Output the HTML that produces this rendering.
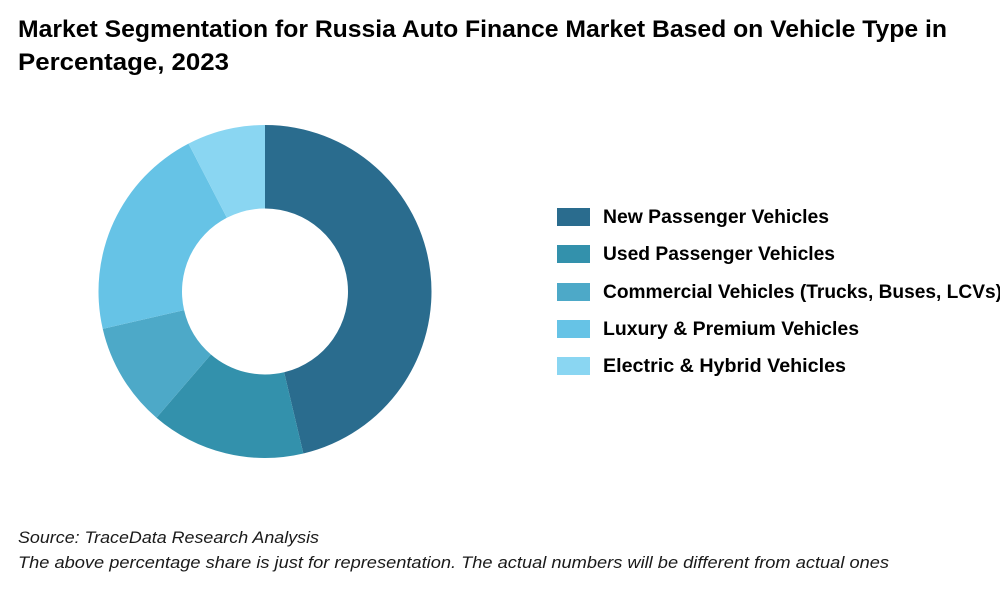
<!DOCTYPE html>
<html lang="en">
<head>
<meta charset="utf-8">
<title>Market Segmentation for Russia Auto Finance Market</title>
<style>
html,body{margin:0;padding:0;background:#fff;}
svg{display:block;}
text{font-family:"Liberation Sans",sans-serif;fill:#000;}
.title{font-size:24px;font-weight:700;}
.legend-text{font-size:19px;font-weight:700;}
.note{font-size:17px;font-style:italic;fill:#1a1a1a;}
</style>
</head>
<body>
<svg id="chart" width="1000" height="600" viewBox="0 0 1000 600" xmlns="http://www.w3.org/2000/svg">
  <rect x="0" y="0" width="1000" height="600" fill="#ffffff"/>
  <g>
    <text class="title" x="18" y="37" textLength="929" lengthAdjust="spacingAndGlyphs">Market Segmentation for Russia Auto Finance Market Based on Vehicle Type in</text>
    <text class="title" x="18" y="70" textLength="211" lengthAdjust="spacingAndGlyphs">Percentage, 2023</text>
  </g>
  <g id="slices"></g>
  <g>
    <g>
      <rect x="557" y="208" width="33" height="18" fill="#2a6c8e"/>
      <text class="legend-text" x="603" y="223" textLength="226" lengthAdjust="spacingAndGlyphs">New Passenger Vehicles</text>
    </g>
    <g>
      <rect x="557" y="245" width="33" height="18" fill="#3391ac"/>
      <text class="legend-text" x="603" y="260" textLength="232" lengthAdjust="spacingAndGlyphs">Used Passenger Vehicles</text>
    </g>
    <g>
      <rect x="557" y="283" width="33" height="18" fill="#4da9c8"/>
      <text class="legend-text" x="603" y="298" textLength="399" lengthAdjust="spacingAndGlyphs">Commercial Vehicles (Trucks, Buses, LCVs)</text>
    </g>
    <g>
      <rect x="557" y="320" width="33" height="18" fill="#66c3e6"/>
      <text class="legend-text" x="603" y="335" textLength="256" lengthAdjust="spacingAndGlyphs">Luxury &amp; Premium Vehicles</text>
    </g>
    <g>
      <rect x="557" y="357" width="33" height="18" fill="#8ad6f2"/>
      <text class="legend-text" x="603" y="372" textLength="243" lengthAdjust="spacingAndGlyphs">Electric &amp; Hybrid Vehicles</text>
    </g>
  </g>
  <g>
    <text class="note" x="18" y="543" textLength="301" lengthAdjust="spacingAndGlyphs">Source: TraceData Research Analysis</text>
    <text class="note" x="18" y="568" textLength="871" lengthAdjust="spacingAndGlyphs">The above percentage share is just for representation. The actual numbers will be different from actual ones</text>
  </g>
</svg>
<script>
const categories = ["New Passenger Vehicles", "Used Passenger Vehicles", "Commercial Vehicles (Trucks, Buses, LCVs)", "Luxury & Premium Vehicles", "Electric & Hybrid Vehicles"];
const shares = [46.3, 15, 10.1, 21, 7.6];
const sliceColors = ["#2a6c8e", "#3391ac", "#4da9c8", "#66c3e6", "#8ad6f2"];

const cx = 265, cy = 291.5, outerR = 166.5, innerR = 83;
const total = shares.reduce(function (a, b) { return a + b; }, 0);
function angleOf(value) { return value / total * 2 * Math.PI; }
function px(r, a) { return cx + r * Math.sin(a); }
function py(r, a) { return cy - r * Math.cos(a); }
function slicePath(a0, a1) {
  const large = a1 - a0 > Math.PI ? 1 : 0;
  return "M" + px(outerR, a0) + " " + py(outerR, a0) +
    "A" + outerR + " " + outerR + " 0 " + large + " 1 " + px(outerR, a1) + " " + py(outerR, a1) +
    "L" + px(innerR, a1) + " " + py(innerR, a1) +
    "A" + innerR + " " + innerR + " 0 " + large + " 0 " + px(innerR, a0) + " " + py(innerR, a0) + "Z";
}
const group = document.getElementById("slices");
let running = 0;
shares.forEach(function (value, i) {
  const start = angleOf(running);
  running += value;
  const end = angleOf(running);
  const el = document.createElementNS("http://www.w3.org/2000/svg", "path");
  el.setAttribute("d", slicePath(start, end));
  el.setAttribute("fill", sliceColors[i]);
  
  
  const tip = document.createElementNS("http://www.w3.org/2000/svg", "title");
  tip.textContent = categories[i] + ": " + value + "%";
  el.appendChild(tip);
  group.appendChild(el);
});
</script>
</body>
</html>
